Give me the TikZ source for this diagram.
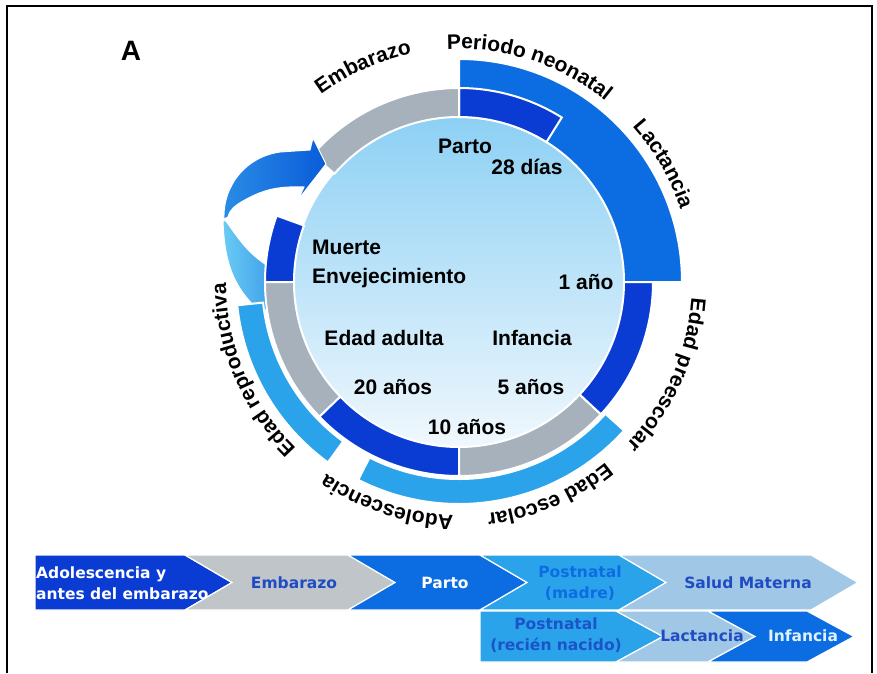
\documentclass[tikz,border=0pt]{standalone}
\usepackage{fontspec}
\setmainfont{Liberation Sans}
\newfontfamily\chevfont{DejaVu Sans}
\usepackage{tikz}
\usetikzlibrary{calc,positioning,decorations.text}
\definecolor{DeepBlue}{HTML}{0A3CD4}
\definecolor{MidBlue}{HTML}{0C6DE2}
\definecolor{SkyBlue}{HTML}{2BA3EA}
\definecolor{RingGray}{HTML}{A6B1BC}
\definecolor{ChevGray}{HTML}{C0C5CA}
\definecolor{PaleBlue}{HTML}{A0C8E6}
\definecolor{DiscTop}{HTML}{8DD0F4}
\definecolor{DiscBot}{HTML}{F0F8FD}
\definecolor{InkBlue}{HTML}{1F4CC2}
\definecolor{ArrowSoft}{HTML}{6ACBF4}
\definecolor{ArrowMid}{HTML}{2A8CE6}
\definecolor{ArrowDeep}{HTML}{0A5CD8}
\newcommand{\ringfont}{\fontsize{21}{24}\selectfont\bfseries}
\newcommand{\ringpart}[5]{%
  \path[fill=#1,draw=white,line width=2pt] (#2:#4) arc[start angle=#2,end angle=#3,radius=#4]
    -- (#3:#5) arc[start angle=#3,end angle=#2,radius=#5] -- cycle;}
\newcommand{\ringlabel}[2]{%
  \path[decorate,decoration={text along path,text align=center,text={|\ringfont|#2}}]
    ({#1+40}:233) arc[start angle={#1+40},end angle={#1-40},radius=233];}
\newcommand{\chevshape}[6]{%
  \path[fill=#1,draw=white,line width=1.2pt] (#2,#4) -- (#3,#4) -- ({#3+47},{(#4+#5)/2})
    -- (#3,#5) -- (#2,#5) -- ({#2+47*#6},{(#4+#5)/2}) -- cycle;}

\begin{document}
\begin{tikzpicture}[x=1pt,y=1pt,
    inlbl/.style={font=\fontsize{21}{24}\selectfont\bfseries,inner sep=0pt,text height=15pt,text depth=0pt},
    chevtxt/.style={font=\chevfont\fontsize{15.5}{20.5}\selectfont\bfseries,align=center,inner sep=0pt}]
  \useasboundingbox (0,0) rectangle (877,673);
  \fill[white] (0,0) rectangle (877,673);
  \draw[line width=2.2pt] (7,0) -- (7,667) -- (872,667) -- (872,0);
  \node[font=\fontsize{28}{30}\selectfont\bfseries] (lblA) at (131,622) {A};

  \path[left color=ArrowSoft,right color=ArrowMid,draw=white,line width=1pt]
    (223,452) to[out=-88,in=140] (262,360) -- (295,388) -- (292,410) -- (273,404)
    to[out=150,in=-55] (226,452) -- cycle;

  \begin{scope}[shift={(459,391)}]
    \shade[top color=DiscTop,bottom color=DiscBot] (0,0) circle[radius=165];
    \ringpart{MidBlue}{0}{90}{165}{223}
    \ringpart{DeepBlue}{58}{90}{165}{194}
    \ringpart{RingGray}{90}{139}{165}{194}
    \ringpart{DeepBlue}{160}{180}{165}{194}
    \ringpart{RingGray}{180}{224}{165}{194}
    \ringpart{DeepBlue}{224}{270}{165}{194}
    \ringpart{RingGray}{270}{317}{165}{194}
    \ringpart{DeepBlue}{317}{360}{165}{194}
    \ringpart{SkyBlue}{186}{234}{197}{223}
    \ringpart{SkyBlue}{243}{318}{197}{222}
    \ringlabel{114}{Embarazo}
    \ringlabel{72}{Periodo neonatal}
    \ringlabel{30}{Lactancia}
    \ringlabel{-24}{Edad preescolar}
    \ringlabel{-67}{Edad escolar}
    \ringlabel{-108}{Adolescencia}
    \ringlabel{-157}{Edad reproductiva}
  \end{scope}

  \path[left color=ArrowMid,right color=ArrowDeep,draw=white,line width=1pt]
    (224,454) to[out=92,in=188] (280,521) -- (310,523) -- (313,535) -- (326,509) -- (298,473)
    -- (304,486) to[out=178,in=30] (243,472) to[out=210,in=75] (228,456) -- cycle;

  \node[inlbl] (parto) at (465,527) {Parto};
  \node[inlbl] (dias) at (527,506) {28 días};
  \node[inlbl,anchor=west] (muerte) at (312,426) {Muerte};
  \node[inlbl,anchor=west] (enve) at (312,397) {Envejecimiento};
  \node[inlbl] (anio) at (586,391) {1 año};
  \node[inlbl] (adulta) at (384,335) {Edad adulta};
  \node[inlbl] (infancia) at (532,335) {Infancia};
  \node[inlbl] (veinte) at (393,286) {20 años};
  \node[inlbl] (cinco) at (531,286) {5 años};
  \node[inlbl] (diez) at (467,246) {10 años};

  \chevshape{DeepBlue}{35}{185}{63}{118}{0}
  \chevshape{ChevGray}{185}{348}{63}{118}{1}
  \chevshape{MidBlue}{348}{480}{63}{118}{1}
  \chevshape{SkyBlue}{480}{619}{63}{118}{1}
  \chevshape{PaleBlue}{619}{811}{63}{118}{1}
  \chevshape{SkyBlue}{480}{616}{11}{62}{0}
  \chevshape{PaleBlue}{616}{708}{11}{62}{1}
  \chevshape{MidBlue}{708}{807}{11}{62}{1}

  \node[chevtxt,text=white,align=left,anchor=west] (adol) at (36,90) {Adolescencia y\\antes del embarazo};
  \node[chevtxt,text=InkBlue] (emb) at (294,90) {Embarazo};
  \node[chevtxt,text=white] (partob) at (445,90) {Parto};
  \node[chevtxt,text=MidBlue] (madre) at (580,90) {Postnatal\\(madre)};
  \node[chevtxt,text=InkBlue] (salud) at (748,90) {Salud Materna};
  \node[chevtxt,text=InkBlue!80!MidBlue] (recien) at (556,38) {Postnatal\\(recién nacido)};
  \node[chevtxt,text=InkBlue] (lact) at (702,37) {Lactancia};
  \node[chevtxt,text=white!85!SkyBlue] (infb) at (803,37) {Infancia};
\end{tikzpicture}
\end{document}
